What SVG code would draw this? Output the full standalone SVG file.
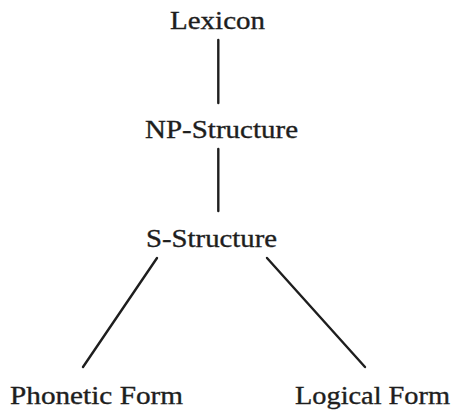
<svg xmlns="http://www.w3.org/2000/svg" width="454" height="410" viewBox="0 0 454 410">
<style>
text{font-family:"Liberation Serif","Times New Roman",serif;font-size:25.5px;fill:#1e1e1e;stroke:#1e1e1e;stroke-width:0.35}
.c line{stroke:#1e1e1e;stroke-width:2.4;stroke-linecap:round}
</style>
<rect width="454" height="410" fill="#fff"/>
<g class="c" id="connectors">
<line x1="218.3" y1="40" x2="218.3" y2="103"/>
<line x1="218.3" y1="149" x2="218.3" y2="211"/>
<line x1="157" y1="258" x2="83" y2="367"/>
<line x1="267" y1="258" x2="365" y2="367"/>
</g>
<g id="lexicon"><text x="170" y="29" textLength="95" lengthAdjust="spacingAndGlyphs">Lexicon</text></g>
<g id="np-structure"><text x="145" y="138" textLength="153" lengthAdjust="spacingAndGlyphs">NP-Structure</text></g>
<g id="s-structure"><text x="146" y="247" textLength="131" lengthAdjust="spacingAndGlyphs">S-Structure</text></g>
<g id="phonetic-form"><text x="10" y="404" textLength="173" lengthAdjust="spacingAndGlyphs">Phonetic Form</text></g>
<g id="logical-form"><text x="295" y="404" textLength="155" lengthAdjust="spacingAndGlyphs">Logical Form</text></g>
</svg>
